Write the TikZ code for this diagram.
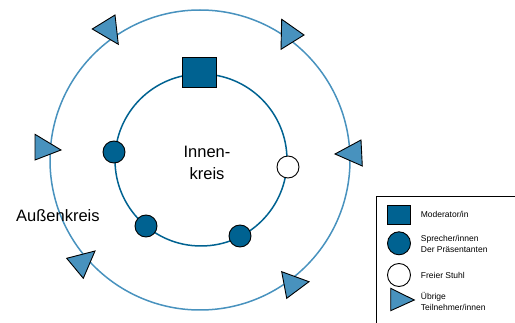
\documentclass[tikz,border=0pt]{standalone}
\usepackage{fontspec}
\setmainfont{Liberation Sans}
\definecolor{darkblue}{RGB}{0,98,145}
\definecolor{lightblue}{RGB}{72,146,190}
\begin{document}
\begin{tikzpicture}[x=1pt,y=-1pt,
  innerring/.style={draw=darkblue,line width=1.5pt},
  outerring/.style={draw=lightblue,line width=1.5pt},
  modbox/.style={draw=black,fill=darkblue,line width=0.9pt,inner sep=0pt},
  spk/.style={circle,draw=black,fill=darkblue,line width=0.9pt,inner sep=0pt,minimum size=22pt},
  freechair/.style={circle,draw=black,fill=white,line width=0.9pt,inner sep=0pt,minimum size=22pt},
  tri/.style={draw=black,fill=lightblue,line width=0.9pt,line join=miter},
  bigtext/.style={font=\fontsize{16.5}{22}\selectfont,align=center,inner sep=0pt},
  legtext/.style={font=\fontsize{8.5}{11}\selectfont,align=left,anchor=west,inner sep=0pt}]
\useasboundingbox (0,0) rectangle (515,323);
% legend frame (cut off at the page edge)
\begin{scope}
\clip (0,0) rectangle (515,323);
\draw[line width=0.8pt] (376,196) rectangle (540,350);
\end{scope}
% rings
\draw[outerring] (200,160) circle[radius=150pt];
\draw[innerring] (201,160) circle[radius=86pt];
% moderator
\node[modbox,minimum width=34pt,minimum height=30pt] (mod) at (199,72) {};
% speakers
\node[spk] (s1) at (114,152) {};
\node[spk] (s2) at (146,226) {};
\node[spk] (s3) at (240,236) {};
\node[freechair] (fc) at (288,167) {};
% participants on outer ring
\draw[tri] (92.3,29) -- (115,15) -- (118.3,44.3) -- cycle;
\draw[tri] (281.7,19.3) -- (304,35) -- (281,49.3) -- cycle;
\draw[tri] (35,134.3) -- (61,150) -- (35,160) -- cycle;
\draw[tri] (335,154) -- (361,140) -- (362.3,166) -- cycle;
\draw[tri] (66.7,258.3) -- (95,251) -- (83.3,278.3) -- cycle;
\draw[tri] (281.7,271.7) -- (309,281.7) -- (286.7,298.3) -- cycle;
% labels
\node[bigtext] (ik) at (207,163) {Innen-\\kreis};
\node[font=\fontsize{16.5}{18}\selectfont,anchor=base west,inner sep=0pt] (ak) at (16,222) {Außenkreis};
% legend
\node[modbox,minimum width=23pt,minimum height=19pt] (lmod) at (399,214.7) {};
\node[spk,minimum size=23pt] (lspk) at (399,243.3) {};
\node[freechair,minimum size=23pt] (lfc) at (399,275) {};
\draw[tri] (390.7,288.3) -- (414.3,300) -- (390.7,310.7) -- cycle;
\node[legtext] (t1) at (420.7,214) {Moderator/in};
\node[legtext] (t2) at (420.7,243.7) {Sprecher/innen\\Der Präsentanten};
\node[legtext] (t3) at (420.7,275) {Freier Stuhl};
\node[legtext] (t4) at (420.7,301) {Übrige\\Teilnehmer/innen};
\end{tikzpicture}
\end{document}
